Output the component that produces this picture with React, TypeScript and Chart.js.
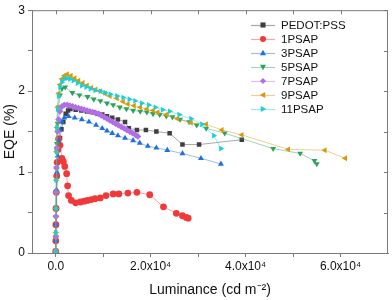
import React, { useEffect, useRef } from 'react';
import { Chart, registerables } from 'chart.js';
Chart.register(...registerables);

const SERIES_NAMES = ['PEDOT:PSS', '1PSAP', '3PSAP', '5PSAP', '7PSAP', '9PSAP', '11PSAP'];
const SERIES_COLORS = ['#3f3f3f', '#f03a3a', '#1f6fe0', '#2ca25c', '#b06fe6', '#d69a0c', '#1ccfd6'];
const LINE_COLORS = ['rgba(63,63,63,0.45)', 'rgba(240,58,58,0.45)', 'rgba(31,111,224,0.45)', 'rgba(44,162,92,0.45)', 'rgba(176,111,230,0.45)', 'rgba(214,154,12,0.45)', 'rgba(28,207,214,0.45)'];
const SERIES_STYLES = ['rect', 'circle', 'triangle', 'triangle', 'rectRot', 'triangle', 'triangle'];
const SERIES_ROT = [0, 0, 0, 180, 0, -90, 90];

const PEDOT_X = [0, 20, 60, 120, 200, 300, 450, 650, 900, 1200, 1600, 2100, 2600, 3100, 4200, 5400, 6600, 7800, 8800, 9800, 10800, 11900, 13100, 14600, 15400, 17100, 19000, 21200, 24000, 26700, 30200, 39200];
const PEDOT_Y = [0.02, 0.15, 0.35, 0.55, 0.75, 0.95, 1.12, 1.28, 1.42, 1.53, 1.62, 1.72, 1.76, 1.78, 1.77, 1.76, 1.75, 1.74, 1.72, 1.71, 1.69, 1.67, 1.65, 1.62, 1.54, 1.52, 1.52, 1.50, 1.48, 1.34, 1.34, 1.40];

const P1_X = [0, 10, 30, 60, 120, 200, 300, 450, 600, 900, 1300, 1600, 1900, 2300, 2500, 2700, 3300, 4200, 5200, 6000, 6700, 7500, 8300, 9400, 10600, 12100, 13300, 15200, 17100, 19800, 22700, 25400, 26700, 27500, 27900];
const P1_Y = [0.02, 0.15, 0.35, 0.55, 0.75, 0.95, 1.12, 1.28, 1.41, 1.33, 1.17, 1.13, 1.07, 0.98, 0.83, 0.71, 0.65, 0.62, 0.63, 0.64, 0.65, 0.66, 0.67, 0.68, 0.71, 0.73, 0.73, 0.74, 0.75, 0.72, 0.57, 0.49, 0.46, 0.44, 0.43];

const P3_X = [0, 15, 40, 80, 150, 250, 400, 600, 900, 1300, 1800, 2700, 4000, 5500, 7000, 8500, 9800, 10800, 11900, 13100, 14600, 16300, 17700, 19400, 21200, 23500, 26700, 30600, 34800];
const P3_Y = [0.02, 0.15, 0.35, 0.55, 0.78, 1.0, 1.2, 1.38, 1.52, 1.62, 1.67, 1.69, 1.67, 1.65, 1.62, 1.58, 1.54, 1.51, 1.48, 1.45, 1.42, 1.39, 1.36, 1.32, 1.30, 1.27, 1.23, 1.17, 1.10];

const P5_X = [0, 15, 40, 80, 150, 250, 400, 600, 900, 1300, 2000, 3500, 5000, 6700, 8000, 9400, 10800, 12100, 13500, 14900, 16300, 17800, 19200, 20500, 21900, 23300, 24600, 26200, 28100, 29700, 31700, 35600, 45800, 51500, 54500, 55000];
const P5_Y = [0.02, 0.2, 0.45, 0.75, 1.05, 1.35, 1.6, 1.8, 1.95, 2.03, 2.05, 1.98, 1.95, 1.93, 1.90, 1.88, 1.85, 1.83, 1.80, 1.78, 1.76, 1.75, 1.74, 1.72, 1.71, 1.69, 1.68, 1.65, 1.62, 1.58, 1.54, 1.48, 1.29, 1.23, 1.14, 1.10];

const P7_X = [0, 15, 40, 80, 150, 250, 400, 600, 900, 1300, 1800, 2400, 3000, 3600, 4200, 4800, 5400, 6000, 6600, 7200, 7800, 8400, 9000, 9600, 10200, 10800, 11400, 12000, 12600, 13200, 13800, 14400, 15000, 15600, 16200, 16800, 17300];
const P7_Y = [0.02, 0.2, 0.45, 0.75, 1.05, 1.3, 1.5, 1.65, 1.75, 1.81, 1.83, 1.83, 1.82, 1.81, 1.80, 1.79, 1.78, 1.77, 1.76, 1.75, 1.74, 1.73, 1.72, 1.70, 1.68, 1.66, 1.64, 1.62, 1.60, 1.58, 1.56, 1.54, 1.52, 1.50, 1.48, 1.46, 1.44];

const P9_X = [0, 15, 40, 80, 150, 250, 400, 600, 900, 1300, 1800, 2400, 3200, 4000, 4800, 5700, 6600, 7500, 8400, 9400, 10400, 11400, 12900, 14200, 15200, 16500, 17800, 19200, 20500, 21500, 23300, 25600, 28500, 31700, 35000, 39200, 49000, 56700, 61000];
const P9_Y = [0.02, 0.25, 0.55, 0.9, 1.25, 1.55, 1.8, 1.97, 2.08, 2.15, 2.19, 2.21, 2.19, 2.16, 2.13, 2.10, 2.07, 2.04, 2.02, 2.00, 1.97, 1.94, 1.91, 1.87, 1.84, 1.82, 1.80, 1.78, 1.76, 1.74, 1.71, 1.66, 1.61, 1.59, 1.52, 1.46, 1.28, 1.27, 1.17];

const P11_X = [0, 15, 40, 80, 150, 250, 400, 600, 900, 1300, 1800, 2400, 3000, 3700, 4600, 5500, 6400, 7300, 8300, 9400, 10400, 11500, 12900, 14200, 15500, 16700, 18100, 19600, 21000, 22500, 24000, 26000, 28500, 30800, 33300, 34800];
const P11_Y = [0.02, 0.25, 0.55, 0.9, 1.25, 1.55, 1.78, 1.94, 2.05, 2.11, 2.15, 2.16, 2.15, 2.13, 2.10, 2.07, 2.05, 2.03, 2.01, 2.00, 1.98, 1.96, 1.94, 1.92, 1.90, 1.88, 1.85, 1.83, 1.80, 1.77, 1.75, 1.71, 1.66, 1.59, 1.45, 1.29];

const SERIES_X = [PEDOT_X, P1_X, P3_X, P5_X, P7_X, P9_X, P11_X];
const SERIES_Y = [PEDOT_Y, P1_Y, P3_Y, P5_Y, P7_Y, P9_Y, P11_Y];

const X_TICKS = [0, 10000, 20000, 30000, 40000, 50000, 60000];
const X_LABELS: Record<number, string> = { 0: '0.0', 20000: '2.0x10\u2074', 40000: '4.0x10\u2074', 60000: '6.0x10\u2074' };
const Y_TICKS = [0, 0.5, 1, 1.5, 2, 2.5, 3];
const Y_LABELS: Record<number, string> = { 0: '0', 1: '1', 2: '2', 3: '3' };

const FONT = "'Liberation Sans', Arial, sans-serif";
const AXIS_COLOR = '#7a7a7a';

function drawMarker(ctx: CanvasRenderingContext2D, style: string, rotDeg: number, x: number, y: number, r: number, color: string) {
  ctx.save();
  ctx.translate(x, y);
  ctx.rotate((rotDeg * Math.PI) / 180);
  ctx.fillStyle = color;
  ctx.beginPath();
  if (style === 'circle') {
    ctx.arc(0, 0, r, 0, Math.PI * 2);
  } else if (style === 'rect') {
    const s = r * 0.85;
    ctx.rect(-s, -s, 2 * s, 2 * s);
  } else if (style === 'rectRot') {
    ctx.moveTo(0, -r);
    ctx.lineTo(r, 0);
    ctx.lineTo(0, r);
    ctx.lineTo(-r, 0);
    ctx.closePath();
  } else {
    ctx.moveTo(0, -r * 1.1);
    ctx.lineTo(r * 1.0, r * 0.75);
    ctx.lineTo(-r * 1.0, r * 0.75);
    ctx.closePath();
  }
  ctx.fill();
  ctx.restore();
}

const framePlugin = {
  id: 'frameAndLegend',
  afterDraw(chart: any) {
    const ctx = chart.ctx as CanvasRenderingContext2D;
    const { left, right, top, bottom } = chart.chartArea;
    const xs = chart.scales.x;
    const ys = chart.scales.y;
    ctx.save();
    ctx.strokeStyle = AXIS_COLOR;
    ctx.lineWidth = 1;
    ctx.beginPath();
    ctx.moveTo(left, top + 0.5);
    ctx.lineTo(right, top + 0.5);
    ctx.moveTo(right - 0.5, top);
    ctx.lineTo(right - 0.5, bottom);
    for (const v of X_TICKS) {
      const px = Math.round(xs.getPixelForValue(v)) + 0.5;
      ctx.moveTo(px, top);
      ctx.lineTo(px, top + 4);
    }
    for (const v of Y_TICKS) {
      const py = Math.round(ys.getPixelForValue(v)) + 0.5;
      ctx.moveTo(right, py);
      ctx.lineTo(right - 4, py);
    }
    ctx.stroke();

    // legend
    const lx0 = 251, lx1 = 275, tx = 281;
    let ly = 25;
    ctx.font = `11.5px ${FONT}`;
    ctx.textBaseline = 'middle';
    ctx.textAlign = 'left';
    for (let i = 0; i < SERIES_NAMES.length; i++) {
      ctx.strokeStyle = LINE_COLORS[i];
      ctx.lineWidth = 1.2;
      ctx.beginPath();
      ctx.moveTo(lx0, ly + 0.5);
      ctx.lineTo(lx1, ly + 0.5);
      ctx.stroke();
      drawMarker(ctx, SERIES_STYLES[i], SERIES_ROT[i], (lx0 + lx1) / 2, ly, 3, SERIES_COLORS[i]);
      ctx.fillStyle = '#111';
      ctx.fillText(SERIES_NAMES[i], tx, ly + 0.5);
      ly += 14;
    }
    ctx.restore();
  },
};

export default function App() {
  const ref = useRef<HTMLCanvasElement>(null);
  useEffect(() => {
    const datasets = SERIES_NAMES.map((name, i) => ({
      label: name,
      data: SERIES_X[i].map((x, j) => ({ x, y: SERIES_Y[i][j] })),
      borderColor: LINE_COLORS[i],
      backgroundColor: SERIES_COLORS[i],
      borderWidth: 1,
      pointStyle: SERIES_STYLES[i],
      pointRotation: SERIES_ROT[i],
      pointRadius: SERIES_STYLES[i] === 'rect' ? 3.2 : 3.4,
      pointBackgroundColor: SERIES_COLORS[i],
      pointBorderColor: SERIES_COLORS[i],
      pointBorderWidth: 0,
      showLine: true,
      fill: false,
      tension: 0,
      order: SERIES_NAMES.length - i,
    }));
    const chart = new Chart(ref.current!, {
      type: 'line',
      data: { datasets },
      options: {
        animation: false,
        responsive: false,
        maintainAspectRatio: false,
        layout: { padding: { top: 7, right: 2, left: 0, bottom: 0 } },
        plugins: { legend: { display: false }, tooltip: { enabled: false } },
        scales: {
          x: {
            type: 'linear',
            min: -5000,
            max: 70000,
            afterBuildTicks: (scale: any) => {
              scale.ticks = X_TICKS.map((v) => ({ value: v }));
            },
            afterFit: (scale: any) => {
              scale.height = 47;
            },
            ticks: {
              autoSkip: false,
              maxRotation: 0,
              padding: 2,
              color: '#111',
              font: { family: FONT, size: 12 },
              callback: (v: any) => X_LABELS[v as number] ?? '',
            },
            grid: { drawOnChartArea: false, drawTicks: true, tickLength: 4, color: AXIS_COLOR },
            border: { color: AXIS_COLOR, width: 1 },
            title: {
              display: true,
              text: 'Luminance (cd m\u207B\u00B2)',
              color: '#111',
              font: { family: FONT, size: 14 },
              padding: { top: 0, bottom: 1 },
            },
          },
          y: {
            type: 'linear',
            min: 0,
            max: 3,
            afterBuildTicks: (scale: any) => {
              scale.ticks = Y_TICKS.map((v) => ({ value: v }));
            },
            afterFit: (scale: any) => {
              scale.width = 32;
            },
            ticks: {
              autoSkip: false,
              padding: 3,
              color: '#111',
              font: { family: FONT, size: 12 },
              callback: (v: any) => Y_LABELS[v as number] ?? '',
            },
            grid: { drawOnChartArea: false, drawTicks: true, tickLength: 4, color: AXIS_COLOR },
            border: { color: AXIS_COLOR, width: 1 },
            title: {
              display: true,
              text: 'EQE (%)',
              color: '#111',
              font: { family: FONT, size: 14 },
              padding: { top: 2, bottom: 0 },
            },
          },
        },
      },
      plugins: [framePlugin],
    } as any);
    return () => chart.destroy();
  }, []);
  return (
    <div style={{ position: 'absolute', left: 0, top: 0, width: 392, height: 300 }}>
      <canvas ref={ref} width={392} height={300} style={{ display: 'block' }} />
    </div>
  );
}
